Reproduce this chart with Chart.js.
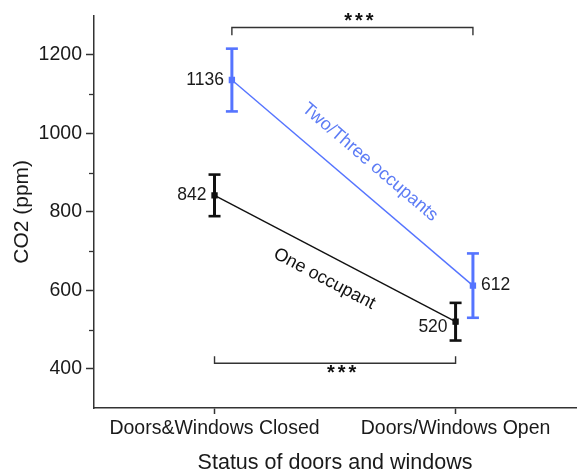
<!DOCTYPE html>
<html>
<head>
<meta charset="utf-8">
<script src="https://cdn.jsdelivr.net/npm/chart.js@4"></script>
<style>
  html, body { margin: 0; padding: 0; background: #fff; }
  canvas { display: block; }
</style>
</head>
<body>
<canvas id="co2" width="581" height="474"></canvas>
<script>
// Door / window status categories
const categories = ['Doors&Windows Closed', 'Doors/Windows Open'];

// Mean CO2 (ppm) and error (±) per category
const oneOccupant = [842, 520];
const oneOccupantErr = [53, 48];
const twoThreeOccupants = [1136, 612];
const twoThreeOccupantsErr = [80, 82];

// Axis ticks
const yTickValues = [400, 600, 800, 1000, 1200];
const yMinorTickValues = [500, 700, 900, 1100];

// Significance markers between the two conditions
const sigTop = { text: '***', level: 1270, leg: 1250 };
const sigBottom = { text: '***', level: 414, leg: 432 };

const BLUE = '#5574ff';
const BLACK = '#111111';
const FONT = '"Liberation Sans", Arial, sans-serif';
const BLUE_SHIFT = 0.072; // horizontal dodge of the second series

const series = [
  { name: 'One occupant', values: oneOccupant, err: oneOccupantErr, color: BLACK, shift: 0,
    labelSide: ['left', 'left'], labelDy: [0, 5], textSide: 1, textGap: 23 },
  { name: 'Two/Three occupants', values: twoThreeOccupants, err: twoThreeOccupantsErr, color: BLUE, shift: BLUE_SHIFT,
    labelSide: ['left', 'right'], labelDy: [0, 0], textSide: -1, textGap: 27 }
];

const datasets = series.map(s => ({
  label: s.name,
  data: s.values.map((v, i) => ({ x: i + s.shift, y: v })),
  borderColor: s.color,
  backgroundColor: s.color,
  borderWidth: 1.4,
  pointStyle: 'rect',
  pointRadius: 3.5,
  pointHoverRadius: 3.5,
  tension: 0
}));

function line(ctx, x1, y1, x2, y2) {
  ctx.beginPath(); ctx.moveTo(x1, y1); ctx.lineTo(x2, y2); ctx.stroke();
}

function bracket(ctx, xa, xb, yl, yg) {
  ctx.beginPath();
  ctx.moveTo(xa, yg); ctx.lineTo(xa, yl); ctx.lineTo(xb, yl); ctx.lineTo(xb, yg);
  ctx.stroke();
}

const annotate = {
  id: 'annotate',
  beforeDatasetsDraw(chart) {
    const { ctx, scales: { x, y } } = chart;
    ctx.save();
    series.forEach(s => {
      ctx.strokeStyle = s.color;
      s.values.forEach((v, i) => {
        const px = x.getPixelForValue(i + s.shift);
        const top = y.getPixelForValue(v + s.err[i]);
        const bot = y.getPixelForValue(v - s.err[i]);
        ctx.lineWidth = 3;
        line(ctx, px, top, px, bot);
        ctx.lineWidth = 2.6;
        line(ctx, px - 6, top, px + 6, top);
        line(ctx, px - 6, bot, px + 6, bot);
      });
    });
    ctx.restore();
  },
  afterDatasetsDraw(chart) {
    const { ctx, chartArea, scales: { x, y } } = chart;
    ctx.save();

    // minor ticks on the value axis
    ctx.strokeStyle = '#333';
    ctx.lineWidth = 1.3;
    yMinorTickValues.forEach(v => {
      const py = Math.round(y.getPixelForValue(v)) + 0.5;
      line(ctx, chartArea.left - 5, py, chartArea.left, py);
    });

    // value labels next to each mean
    ctx.fillStyle = '#1a1a1a';
    ctx.font = '17.5px ' + FONT;
    ctx.textBaseline = 'middle';
    series.forEach(s => {
      s.values.forEach((v, i) => {
        const px = x.getPixelForValue(i + s.shift);
        const py = y.getPixelForValue(v) + s.labelDy[i];
        if (s.labelSide[i] === 'left') {
          ctx.textAlign = 'right';
          ctx.fillText(String(v), px - 8, py);
        } else {
          ctx.textAlign = 'left';
          ctx.fillText(String(v), px + 8, py);
        }
      });
    });

    // series names written along their lines
    ctx.font = '18px ' + FONT;
    series.forEach(s => {
      const x1 = x.getPixelForValue(s.shift), y1 = y.getPixelForValue(s.values[0]);
      const x2 = x.getPixelForValue(1 + s.shift), y2 = y.getPixelForValue(s.values[1]);
      const ang = Math.atan2(y2 - y1, x2 - x1);
      const mx = (x1 + x2) / 2, my = (y1 + y2) / 2;
      ctx.save();
      // step off the line along its normal (positive side = below the line)
      ctx.translate(mx - Math.sin(ang) * s.textSide * s.textGap, my + Math.cos(ang) * s.textSide * s.textGap);
      ctx.rotate(ang);
      ctx.fillStyle = s.color === BLUE ? '#5d7cf5' : '#111';
      ctx.textAlign = 'center';
      ctx.textBaseline = 'middle';
      ctx.fillText(s.name, 0, 0);
      ctx.restore();
    });

    // significance brackets
    ctx.strokeStyle = '#333';
    ctx.lineWidth = 1.4;
    ctx.fillStyle = '#111';
    ctx.font = 'bold 20px ' + FONT;
    ctx.textAlign = 'center';
    ctx.textBaseline = 'middle';
    ctx.letterSpacing = '3px';
    {
      const xa = x.getPixelForValue(BLUE_SHIFT), xb = x.getPixelForValue(1 + BLUE_SHIFT);
      const yl = y.getPixelForValue(sigTop.level), yg = y.getPixelForValue(sigTop.leg);
      bracket(ctx, xa, xb, yl, yg);
      ctx.fillText(sigTop.text, (xa + xb) / 2 + 8, yl - 6);
    }
    {
      const xa = x.getPixelForValue(0), xb = x.getPixelForValue(1);
      const yl = y.getPixelForValue(sigBottom.level), yg = y.getPixelForValue(sigBottom.leg);
      bracket(ctx, xa, xb, yl, yg);
      ctx.fillText(sigBottom.text, (xa + xb) / 2 + 8, yl + 10);
    }
    ctx.restore();
  }
};

new Chart(document.getElementById('co2'), {
  type: 'line',
  data: { datasets },
  plugins: [annotate],
  options: {
    responsive: false,
    animation: false,
    events: [],
    layout: { padding: { top: 13, right: 0, left: 0, bottom: 0 } },
    plugins: { legend: { display: false }, tooltip: { enabled: false } },
    scales: {
      x: {
        type: 'linear',
        min: -0.5,
        max: 1.5,
        afterFit(scale) { scale.height = 66; },
        afterBuildTicks(scale) { scale.ticks = categories.map((_, i) => ({ value: i })); },
        ticks: {
          callback: (v) => categories[v],
          color: '#1a1a1a',
          font: { family: FONT, size: 19.5 },
          padding: 3,
          maxRotation: 0,
          autoSkip: false
        },
        grid: { display: true, drawOnChartArea: false, drawTicks: true, tickLength: 6, tickColor: '#333', tickWidth: 1.5 },
        border: { display: true, color: '#333', width: 1.5 },
        title: {
          display: true,
          text: 'Status of doors and windows',
          color: '#1a1a1a',
          font: { family: FONT, size: 21.5, lineHeight: 1 },
          padding: 0
        }
      },
      y: {
        type: 'linear',
        min: 300,
        max: 1300,
        afterFit(scale) { scale.width = 94; },
        afterBuildTicks(scale) { scale.ticks = yTickValues.map(v => ({ value: v })); },
        ticks: {
          callback: (v) => String(v),
          color: '#1a1a1a',
          font: { family: FONT, size: 19.5 },
          padding: 4
        },
        grid: { display: true, drawOnChartArea: false, drawTicks: true, tickLength: 8, tickColor: '#333', tickWidth: 1.5 },
        border: { display: true, color: '#333', width: 1.5 },
        title: {
          display: true,
          text: 'CO2 (ppm)',
          color: '#1a1a1a',
          font: { family: FONT, size: 21, lineHeight: 1 },
          padding: { top: 12, bottom: 0 }
        }
      }
    }
  }
});
</script>
</body>
</html>
